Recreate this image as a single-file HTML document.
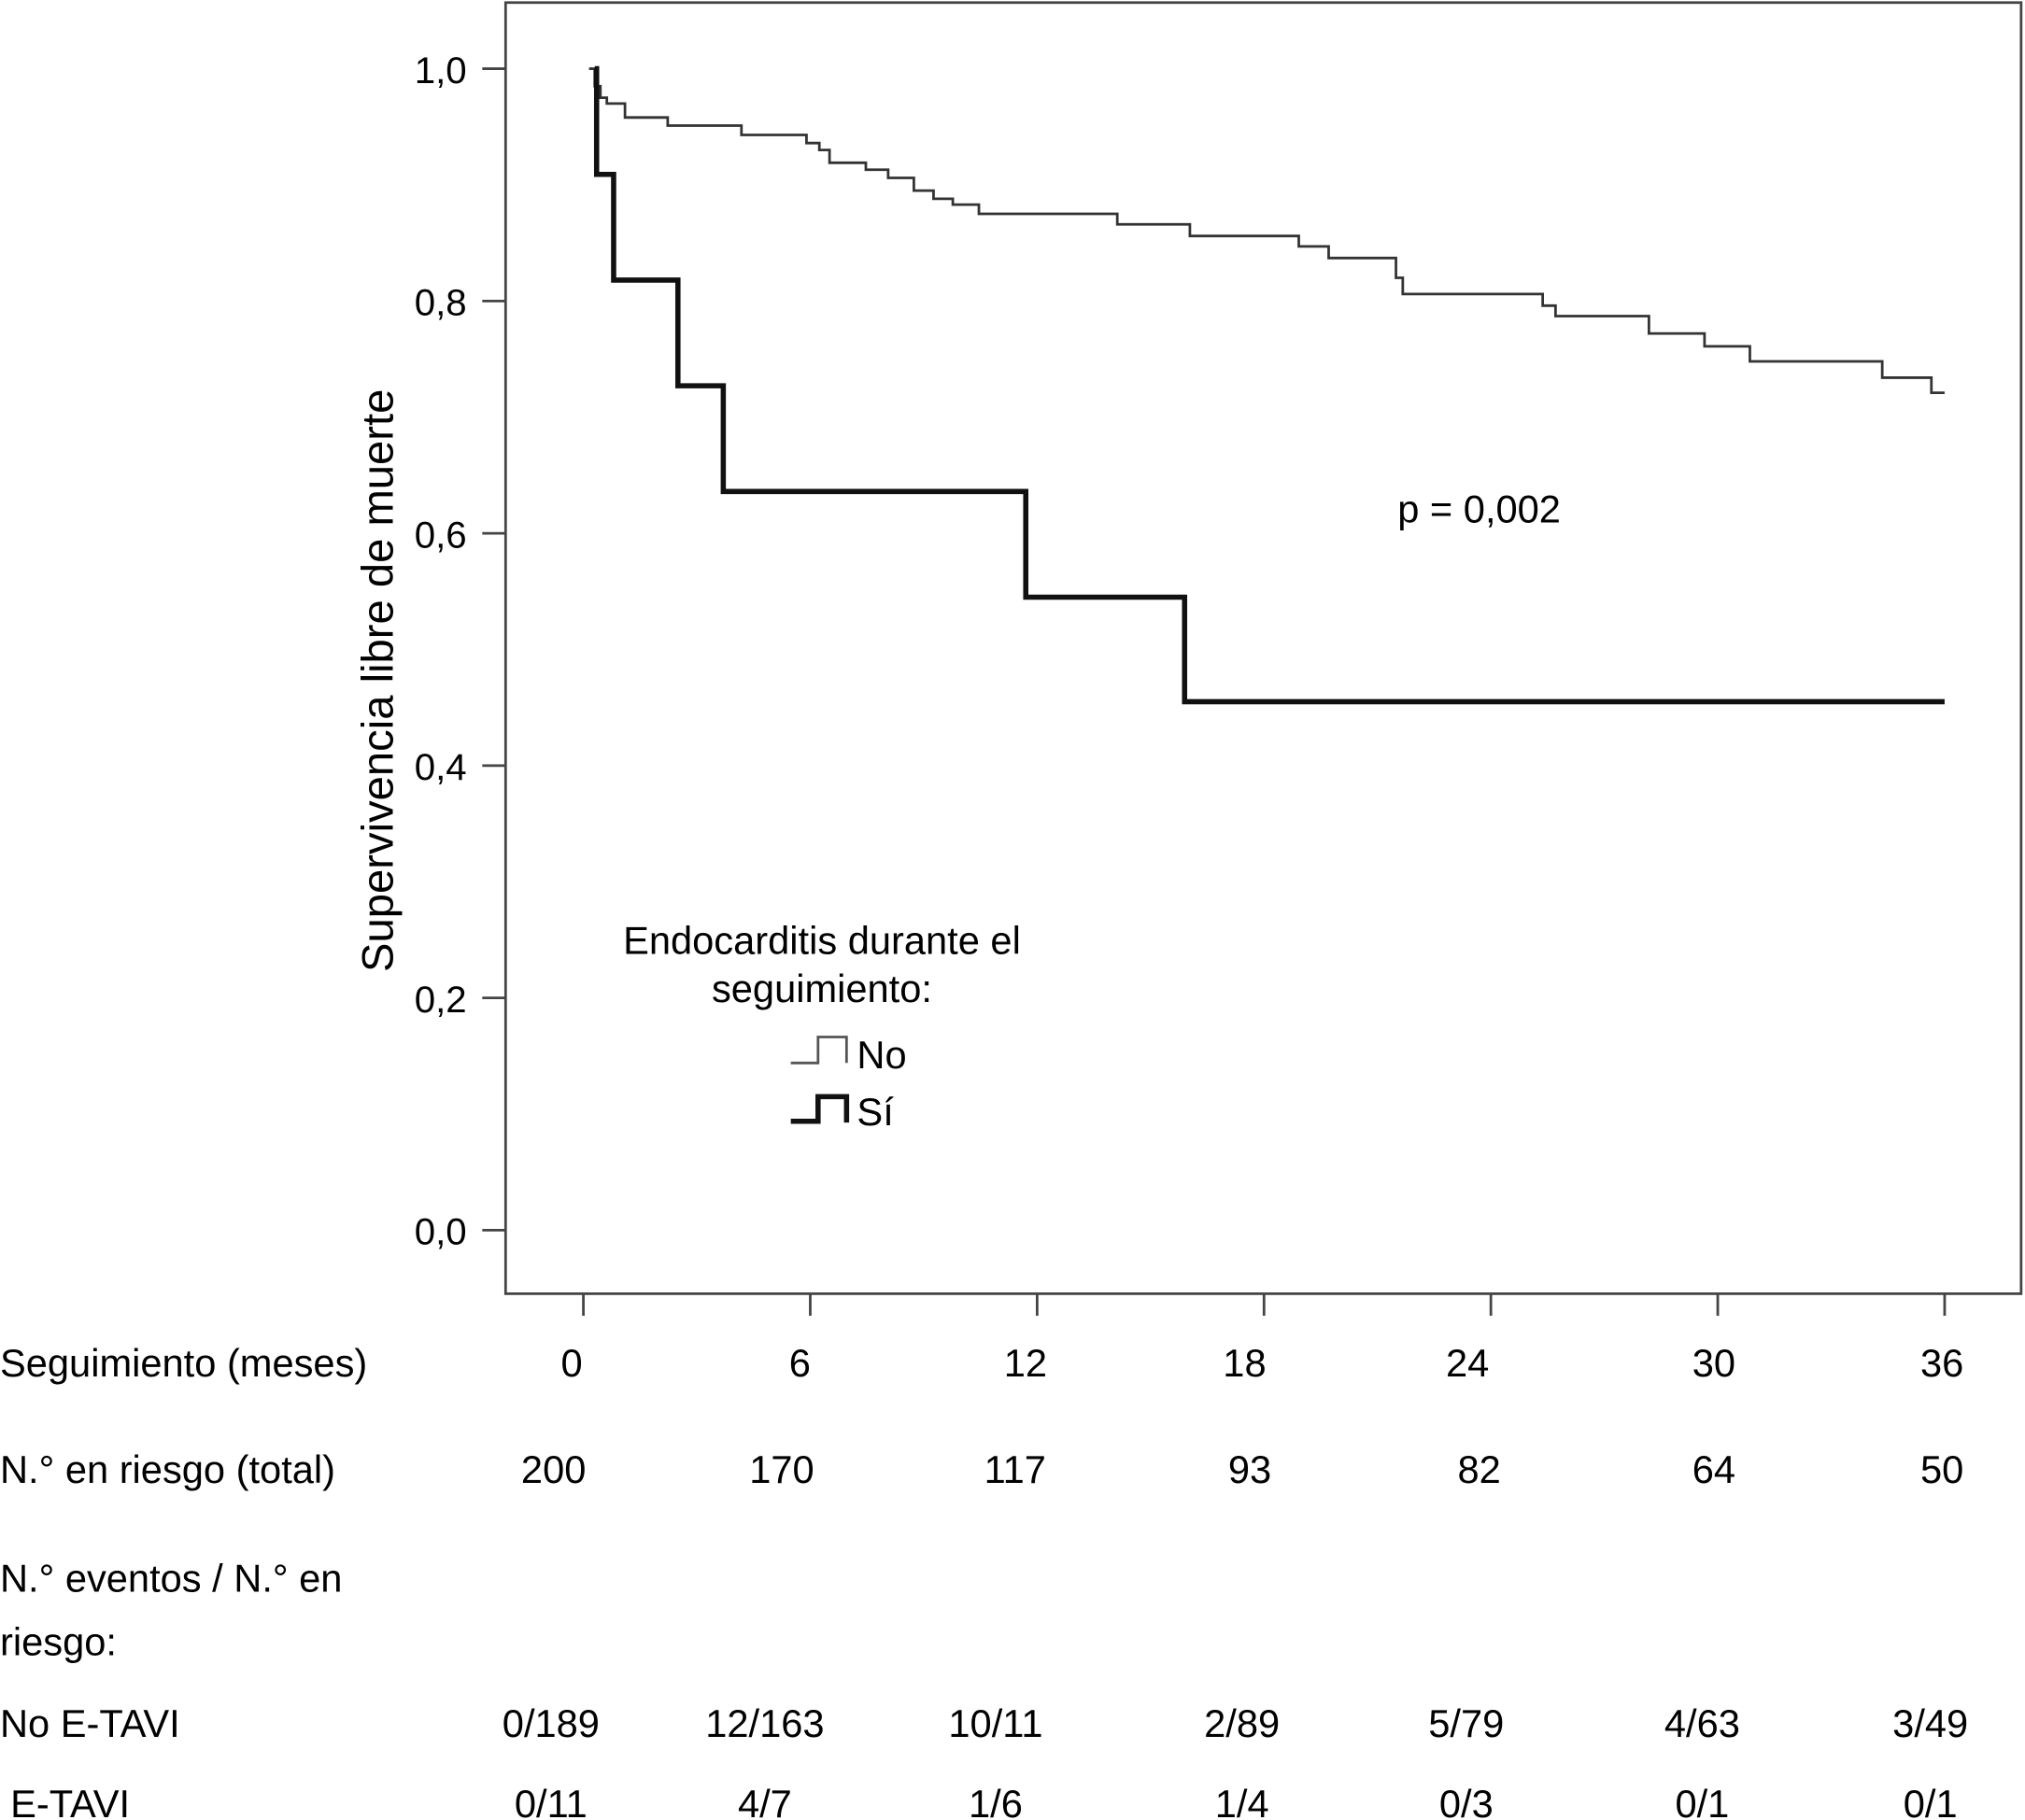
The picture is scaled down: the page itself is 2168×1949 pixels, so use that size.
<!DOCTYPE html>
<html><head><meta charset="utf-8"><style>
html,body{margin:0;padding:0;background:#fff;}
svg{display:block;}
text{font-family:"Liberation Sans",sans-serif;fill:#000;}
</style></head><body>
<svg id="chart" width="2168" height="1949" viewBox="0 0 1562 1404" preserveAspectRatio="none" xmlns="http://www.w3.org/2000/svg">
<g id="axes"></g>
<g id="curves"></g>
<text transform="translate(303,525) rotate(-90)" text-anchor="middle" font-size="34">Supervivencia libre de muerte</text>
<text x="1078" y="403" font-size="30">p = 0,002</text>
<g>
<text x="634" y="736" text-anchor="middle" font-size="30">Endocarditis durante el</text>
<text x="634" y="773" text-anchor="middle" font-size="30">seguimiento:</text>
<path d="M610,820 H631 V800 H653 V820" fill="none" stroke="#555" stroke-width="2"/>
<text x="661" y="824" font-size="30">No</text>
<path d="M610,865 H631 V846 H653 V866" fill="none" stroke="#111" stroke-width="4"/>
<text x="661" y="868" font-size="30">Sí</text>
</g>
<g id="table"></g>
</svg>
<script>
const yTicks=[0,0.2,0.4,0.6,0.8,1.0];
const yTickLabels=["0,0","0,2","0,4","0,6","0,8","1,0"];
const xTicks=[0,6,12,18,24,30,36];
const noTimes=[0.15,0.3,0.45,0.62,1.1,2.23,4.18,5.9,6.24,6.51,7.47,8.06,8.74,9.26,9.77,10.46,14.12,16.04,18.92,19.71,21.49,21.67,25.37,25.71,28.18,29.65,30.85,34.35,35.65];
const noSurv=[1.0,0.985,0.975,0.97,0.958,0.951,0.943,0.936,0.93,0.919,0.913,0.906,0.895,0.888,0.883,0.875,0.866,0.856,0.847,0.837,0.82,0.806,0.796,0.787,0.772,0.761,0.748,0.734,0.721];
const siTimes=[0.3,0.35,0.8,2.5,3.7,11.7,15.9];
const siSurv=[1.0,0.909,0.818,0.727,0.636,0.545,0.455];
const endTime=36;
const atRisk=["200","170","117","93","82","64","50"];
const noEvents=["0/189","12/163","10/11","2/89","5/79","4/63","3/49"];
const siEvents=["0/11","4/7","1/6","1/4","0/3","0/1","0/1"];

const NS="http://www.w3.org/2000/svg";
const X=t=>450+t*(1500-450)/36;
const Y=s=>949-s*(949-53);
function mk(tag,attrs,parent,txt){const e=document.createElementNS(NS,tag);for(const k in attrs)e.setAttribute(k,attrs[k]);if(txt!==undefined)e.textContent=txt;parent.appendChild(e);return e;}
const axes=document.getElementById('axes');
let f=mk('rect',{x:390,y:2,width:1169,height:996,fill:'none',stroke:'#444','stroke-width':2},axes);


yTicks.forEach((v,i)=>{
 let l=mk('line',{x1:372,x2:390,y1:Y(v),y2:Y(v),stroke:'#444','stroke-width':2},axes);
 
 
 let t=mk('text',{x:360,y:Y(v)+11,'text-anchor':'end','font-size':29},axes,yTickLabels[i]);
 
 
});
xTicks.forEach(v=>{
 let l=mk('line',{x1:X(v),x2:X(v),y1:998,y2:1015,stroke:'#444','stroke-width':2},axes);
 
 
});
function stepPath(times,surv){let d=`M${X(times[0])},${Y(surv[0])}`;for(let i=1;i<times.length;i++){d+=` H${X(times[i])} V${Y(surv[i])}`;}d+=` H${X(endTime)}`;return d;}
const cg=document.getElementById('curves');
let pn=mk('path',{d:stepPath(noTimes,noSurv),fill:'none',stroke:'#333','stroke-width':2},cg);


let ps=mk('path',{d:stepPath(siTimes,siSurv),fill:'none',stroke:'#111','stroke-width':4},cg);


const tb=document.getElementById('table');
const colX=[441,617,791,960,1132,1322,1498];
const riskX=[427,603,783,964,1141,1322,1498];
const evX=[425,590,768,958,1131,1313,1489];
function row(label,lx,y,vals,xs,name){
 if(label){let t=mk('text',{x:lx,y:y,'font-size':30},tb,label);
 
 }
 vals.forEach((v,i)=>{let t=mk('text',{x:xs[i],y:y,'text-anchor':'middle','font-size':30},tb,v);
 
 });
}
row("Seguimiento (meses)",0,1062,xTicks.map(String),colX,'x-axis');
row("N.° en riesgo (total)",0,1144,atRisk,riskX,'at-risk');
row("N.° eventos / N.° en",0,1228,[],[], 'events-header');
row("riesgo:",0,1277,[],[], 'events-header-2');
row("No E-TAVI",0,1340,noEvents,evX,'no-etavi');
row("E-TAVI",8,1402,siEvents,evX,'etavi');
</script>
</body></html>
